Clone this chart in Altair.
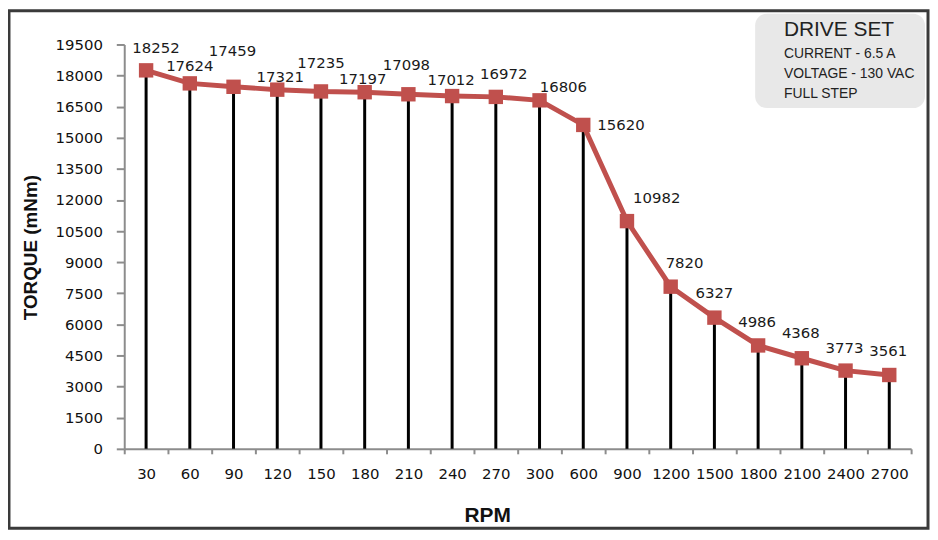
import altair as alt
import pandas as pd

# ---- data ----
rpm = ["30", "60", "90", "120", "150", "180", "210", "240", "270", "300",
       "600", "900", "1200", "1500", "1800", "2100", "2400", "2700"]
torque = [18252, 17624, 17459, 17321, 17235, 17197, 17098, 17012, 16972, 16806,
          15620, 10982, 7820, 6327, 4986, 4368, 3773, 3561]
y_ticks = list(range(0, 19501, 1500))
info_lines = ["CURRENT - 6.5 A", "VOLTAGE - 130 VAC", "FULL STEP"]

# ---- label placement (pixel offsets from each marker) ----
label_dx = [10, 0, -1, 3, 0, -2, -2, -1, 8, 24, 38, 30, 14, 0, -1, -1, -1, -1]
label_dy = [-22, -17, -36, -13, -29, -13, -29, -16, -23, -13, 0, -23, -24, -25, -24, -25, -23, -24]

df = pd.DataFrame({"rpm": rpm, "torque": torque})

W, H = 792, 407
RED = "#C0504D"
NUM_FONT = "DejaVu Sans"
NUM_SIZE = 15

x_enc = alt.X("rpm:N", sort=rpm,
              scale=alt.Scale(type="band", paddingInner=0, paddingOuter=0),
              axis=alt.Axis(title="RPM", labelAngle=0, labelOverlap=False,
                            tickBand="extent", tickSize=5, tickWidth=2,
                            tickColor="#8c8c8c", domainColor="#8c8c8c", domainWidth=2,
                            labelPadding=13, labelFont=NUM_FONT, labelFontSize=NUM_SIZE,
                            labelColor="#111111",
                            titleFont="Liberation Sans", titleFontSize=21,
                            titleFontWeight="bold", titleColor="#111111",
                            titleAnchor="start", titleX=342, titleY=56,
                            titleBaseline="top"))
y_enc = alt.Y("torque:Q",
              scale=alt.Scale(domain=[0, 19500], nice=False, zero=True),
              axis=alt.Axis(title="TORQUE (mNm)", values=y_ticks, grid=False, format="d",
                            tickSize=8, tickWidth=2, tickColor="#8c8c8c",
                            domainColor="#8c8c8c", domainWidth=2,
                            labelPadding=14, labelFont=NUM_FONT, labelFontSize=NUM_SIZE,
                            labelColor="#111111",
                            titleFont="Liberation Sans", titleFontSize=19,
                            titleFontWeight="bold", titleColor="#111111",
                            titleAngle=-90, titleX=-94, titleY=204,
                            titleAlign="center", titleBaseline="middle"))

base = alt.Chart(df)

stems = base.mark_rule(color="black", strokeWidth=3).encode(
    x=x_enc, y=y_enc, y2=alt.datum(0))

line = base.mark_line(color=RED, strokeWidth=5).encode(x=x_enc, y=y_enc)

markers = base.mark_point(shape="square", filled=True, size=210, color=RED,
                          opacity=1).encode(x=x_enc, y=y_enc)

label_layers = []
for r, dx, dy in zip(rpm, label_dx, label_dy):
    label_layers.append(
        base.transform_filter(alt.datum.rpm == r).mark_text(
            font=NUM_FONT, fontSize=NUM_SIZE, color="#1a1a1a",
            align="center", baseline="middle", dx=dx, dy=dy).encode(
            x=x_enc, y=y_enc, text=alt.Text("torque:Q", format="d")))

one = alt.Data(values=[{"a": 1}])

border = alt.Chart(one).mark_rect(fillOpacity=0, stroke="#3a3a3a", strokeWidth=3).encode(
    x=alt.value(-116), x2=alt.value(809), y=alt.value(-34), y2=alt.value(487))

box = alt.Chart(one).mark_rect(fill="#e8e8e8", cornerRadius=12).encode(
    x=alt.value(635), x2=alt.value(806), y=alt.value(-31), y2=alt.value(64))

box_title = alt.Chart(alt.Data(values=[{"t": "DRIVE SET"}])).mark_text(
    font="Liberation Sans", fontSize=21, color="#222222",
    align="left", baseline="alphabetic").encode(
    text="t:N", x=alt.value(664), y=alt.value(-9))

box_lines = []
for i, s in enumerate(info_lines):
    box_lines.append(
        alt.Chart(alt.Data(values=[{"t": s}])).mark_text(
            font="Liberation Sans", fontSize=14, color="#222222",
            align="left", baseline="alphabetic").encode(
            text="t:N", x=alt.value(664), y=alt.value(14 + 20 * i)))

chart = alt.layer(border, box, box_title, *box_lines, stems, line, markers,
                  *label_layers).properties(
    width=W, height=H,
    padding={"left": 117, "top": 35, "right": 19, "bottom": 82},
    autosize=alt.AutoSizeParams(type="none"),
    background="white",
).configure_view(stroke=None)

chart.save("out.html", embed_options={"renderer": "svg", "actions": False})
